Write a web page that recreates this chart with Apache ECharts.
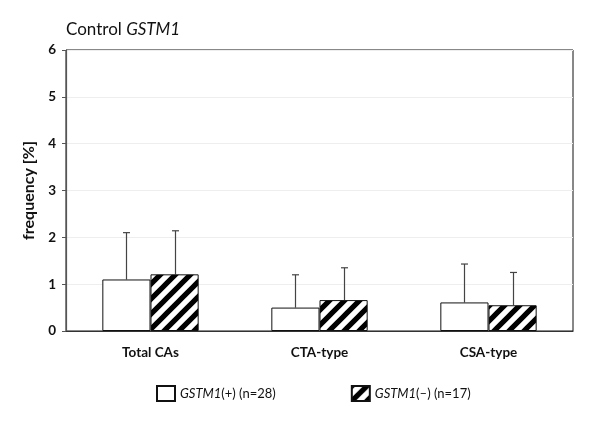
<!DOCTYPE html>
<html>
<head>
<meta charset="utf-8">
<script src="https://cdn.jsdelivr.net/npm/echarts@6/dist/echarts.min.js"></script>
<style>
  html, body { margin: 0; padding: 0; background: #fff; }
  #chart { width: 600px; height: 428px; }
</style>
</head>
<body>
<div id="chart"></div>
<script>
// categorias e valores
const categorias = ['Total CAs', 'CTA-type', 'CSA-type'];
const positivoMedia = [1.10, 0.50, 0.61];
const positivoErro = [2.10, 1.20, 1.43];
const negativoMedia = [1.21, 0.66, 0.55];
const negativoErro = [2.14, 1.35, 1.25];
const ticksY = [0, 1, 2, 3, 4, 5, 6];

const fonte = 'Lato';

// padrão hachurado (listras "/")
function criarHachura() {
    const t = 15;
    const c = document.createElement('canvas');
    c.width = t;
    c.height = t;
    const ctx = c.getContext('2d');
    ctx.fillStyle = '#fff';
    ctx.fillRect(0, 0, t, t);
    ctx.strokeStyle = '#000';
    ctx.lineWidth = 5.2;
    ctx.beginPath();
    // linhas x + y = k, estendidas além do quadro para não deixar falhas
    for (let k = -t; k <= 3 * t; k += t) {
        ctx.moveTo(k - 2 * t, 2 * t);
        ctx.lineTo(k + 2 * t, -2 * t);
    }
    ctx.stroke();
    return c;
}
const hachura = { image: criarHachura(), repeat: 'repeat' };

const chart = echarts.init(document.getElementById('chart'));

const larguraBarra = 0.285;

function serieErro(nome, medias, erros, lado) {
    return {
        name: nome + '_err',
        type: 'custom',
        z: 1,
        silent: true,
        data: medias.map((m, i) => [i, m, erros[i]]),
        renderItem: (params, api) => {
            const i = api.value(0);
            const base = api.coord([i, api.value(1)]);
            const topo = api.coord([i, api.value(2)]);
            const bw = api.size([1, 0])[0] * larguraBarra;
            const x = Math.round(base[0] + lado * bw / 2) + 0.5;
            const cap = 3.5;
            const estilo = { stroke: '#444', lineWidth: 1.2 };
            return {
                type: 'group',
                children: [
                    { type: 'line', shape: { x1: x, y1: base[1], x2: x, y2: topo[1] }, style: estilo },
                    { type: 'line', shape: { x1: x - cap, y1: topo[1], x2: x + cap, y2: topo[1] }, style: estilo }
                ]
            };
        }
    };
}

const nomePos = '{i|GSTM1}(+) (n=28)';
const nomeNeg = '{i|GSTM1}(\u2013) (n=17)';

chart.setOption({
    animation: false,
    textStyle: { fontFamily: fonte },
    title: {
        text: 'Control {i|GSTM1}',
        left: 61,
        top: 16,
        textStyle: {
            fontFamily: fonte,
            fontSize: 17,
            fontWeight: 'normal',
            color: '#111',
            rich: { i: { fontFamily: fonte, fontSize: 17, fontStyle: 'italic', color: '#111' } }
        }
    },
    legend: {
        left: 151,
        top: 380,
        itemWidth: 18,
        itemHeight: 15,
        itemGap: 75,
        icon: 'rect',
        data: [nomePos, nomeNeg],
        textStyle: {
            fontFamily: fonte,
            fontSize: 13,
            color: '#111',
            rich: { i: { fontFamily: fonte, fontSize: 13, fontStyle: 'italic', color: '#111' } }
        }
    },
    grid: {
        left: 66,
        right: 27,
        top: 50,
        bottom: 97,
        show: true,
        borderColor: '#111',
        borderWidth: 1
    },
    xAxis: {
        type: 'category',
        data: categorias,
        axisTick: { show: false },
        axisLine: { lineStyle: { color: '#333', width: 1.2 } },
        axisLabel: {
            margin: 15,
            fontFamily: fonte,
            fontWeight: 'bold',
            fontSize: 13.5,
            color: '#111'
        }
    },
    yAxis: {
        type: 'value',
        min: ticksY[0],
        max: ticksY[ticksY.length - 1],
        interval: 1,
        name: 'frequency [%]',
        nameLocation: 'middle',
        nameGap: 28,
        nameTextStyle: { fontFamily: fonte, fontWeight: 'bold', fontSize: 16, color: '#111' },
        axisLine: { show: true, lineStyle: { color: '#555', width: 1.2 } },
        axisTick: { show: true, length: 4, inside: false, lineStyle: { color: '#555' } },
        splitLine: { lineStyle: { color: '#eee' } },
        axisLabel: {
            margin: 10,
            fontFamily: fonte,
            fontWeight: 'bold',
            fontSize: 13.5,
            color: '#111'
        }
    },
    series: [
        {
            name: nomePos,
            type: 'bar',
            data: positivoMedia,
            barWidth: (larguraBarra * 100) + '%',
            barGap: '0%',
            z: 2,
            itemStyle: { color: '#fff', borderColor: '#111', borderWidth: 1 }
        },
        {
            name: nomeNeg,
            type: 'bar',
            data: negativoMedia,
            barWidth: (larguraBarra * 100) + '%',
            barGap: '0%',
            z: 2,
            itemStyle: { color: hachura, borderColor: '#111', borderWidth: 1 }
        },
        serieErro('pos', positivoMedia, positivoErro, -1),
        serieErro('neg', negativoMedia, negativoErro, 1)
    ]
});
</script>
</body>
</html>
